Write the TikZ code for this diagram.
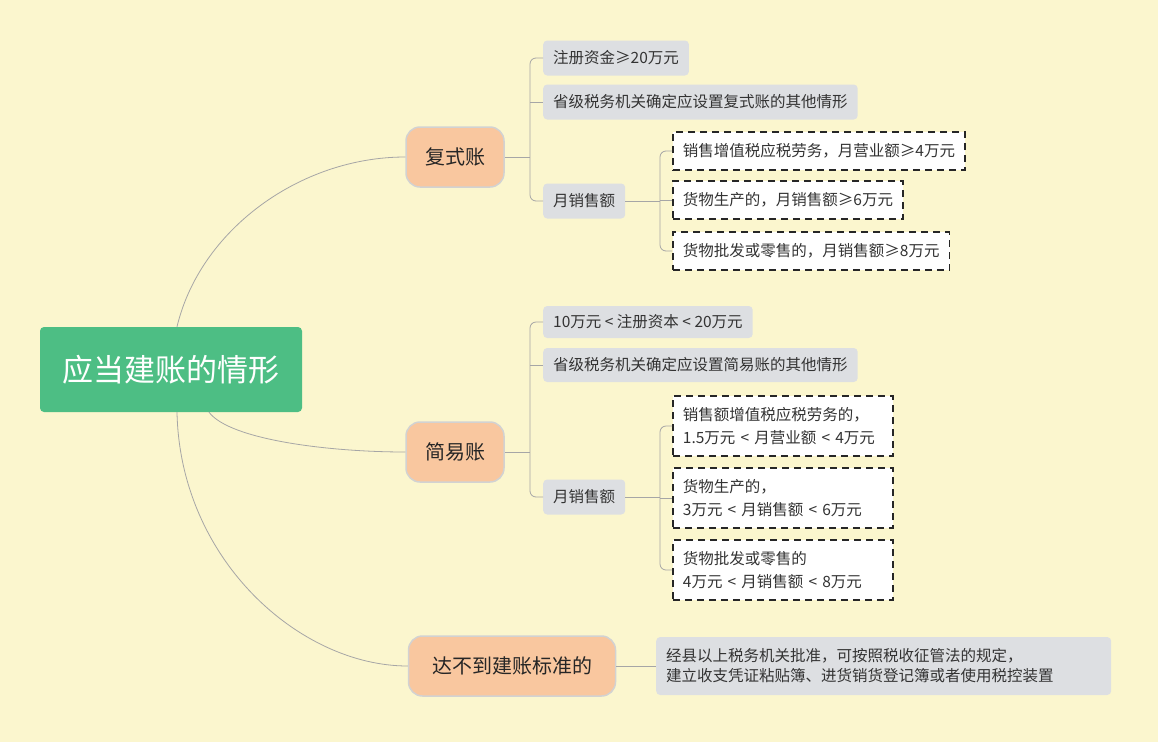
\documentclass[tikz,border=0pt]{standalone}
\usepackage{fontspec}
\setmainfont{Noto Sans CJK SC}
\definecolor{bgc}{RGB}{251,246,206}
\definecolor{peach}{RGB}{249,199,159}
\definecolor{grayb}{RGB}{221,223,226}
\definecolor{grn}{RGB}{77,190,132}
\begin{document}
\begin{tikzpicture}[x=1pt,y=-1pt,
  lnk/.style={draw=gray!70,line width=0.8pt},
  br/.style={draw=gray!70,line width=0.8pt,rounded corners=6pt},
  l1/.style={draw=gray!35,line width=1.5pt,fill=peach,rounded corners=14pt,font=\fontsize{20}{22}\selectfont,text=black!85,minimum height=60pt,inner xsep=12pt},
  l2/.style={fill=grayb,rounded corners=4pt,font=\fontsize{15.5}{20}\selectfont,text=black!80,minimum height=34pt,inner xsep=10pt,align=left},
  dsh/.style={draw=black!85,fill=white,dash pattern=on 7pt off 5pt,line width=1.8pt,font=\fontsize{15.5}{23}\selectfont,text=black!80,inner xsep=10pt,align=left,anchor=west}]
\fill[bgc] (0,0) rectangle (1158,742);
\useasboundingbox (0,0) rectangle (1158,742);
\node[fill=grn,rounded corners=4pt,minimum width=262pt,minimum height=85pt,text=white,font=\fontsize{31}{33}\selectfont] (root) at (171,369.5) {应当建账的情形};
\node[l1,minimum width=98pt] (a) at (455,157) {复式账};
\node[l1,minimum width=98pt] (b) at (455,452) {简易账};
\node[l1,minimum width=207pt] (c) at (512,666) {达不到建账标准的};
% level 2 A
\node[l2,anchor=west,minimum height=35pt] (a1) at (543,58) {注册资金≥20万元};
\node[l2,anchor=west,minimum height=35pt] (a2) at (543,102) {省级税务机关确定应设置复式账的其他情形};
\node[l2,anchor=west,minimum height=35pt] (a3) at (543,201) {月销售额};
\node[dsh,minimum height=38pt] (a31) at (672,151) {销售增值税应税劳务，月营业额≥4万元};
\node[dsh,minimum height=38pt] (a32) at (672,200) {货物生产的，月销售额≥6万元};
\node[dsh,minimum height=38pt] (a33) at (672,251) {货物批发或零售的，月销售额≥8万元};
% level 2 B
\node[l2,anchor=west,minimum height=32pt] (b1) at (543,322) {10万元 < 注册资本 < 20万元};
\node[l2,anchor=west,minimum height=34pt] (b2) at (543,365) {省级税务机关确定应设置简易账的其他情形};
\node[l2,anchor=west,minimum height=35pt] (b3) at (543,497) {月销售额};
\node[dsh,minimum height=60pt,text width=200pt] (b31) at (672,426) {销售额增值税应税劳务的，\\1.5万元 < 月营业额 < 4万元};
\node[dsh,minimum height=60pt,text width=200pt] (b32) at (672,498) {货物生产的，\\3万元 < 月销售额 < 6万元};
\node[dsh,minimum height=60pt,text width=200pt] (b33) at (672,570) {货物批发或零售的\\4万元 < 月销售额 < 8万元};
% C
\node[l2,anchor=west,minimum height=58pt,text width=435pt,align=left,inner xsep=10pt] (c1) at (656,666) {经县以上税务机关批准，可按照税收征管法的规定，\\建立收支凭证粘贴簿、进货销货登记簿或者使用税控装置};
% root curves
\draw[lnk] (root.north) ++(6,0) coordinate (r1) .. controls (200,230) and (300,157) .. (a.west);
\draw[lnk] (root.south) ++(38,0) coordinate (r2) .. controls (230,440) and (330,452) .. (b.west);
\draw[lnk] (root.south) ++(6,0) coordinate (r3) .. controls (180,560) and (300,666) .. (c.west);
% brackets
\draw[lnk] (a.east) -- (530,157);
\draw[br] (a1.west) -- (530,58) -- (530,201) -- (a3.west);
\draw[lnk] (530,102) -- (a2.west);
\draw[lnk] (a3.east) -- (660,201);
\draw[br] (a31.west) -- (660,151) -- (660,251) -- (a33.west);
\draw[lnk] (660,200) -- (a32.west);
\draw[lnk] (b.east) -- (530,452);
\draw[br] (b1.west) -- (530,322) -- (530,497) -- (b3.west);
\draw[lnk] (530,365) -- (b2.west);
\draw[lnk] (b3.east) -- (660,497);
\draw[br] (b31.west) -- (660,426) -- (660,570) -- (b33.west);
\draw[lnk] (660,498) -- (b32.west);
\draw[lnk] (c.east) -- (c1.west);
\end{tikzpicture}
\end{document}
